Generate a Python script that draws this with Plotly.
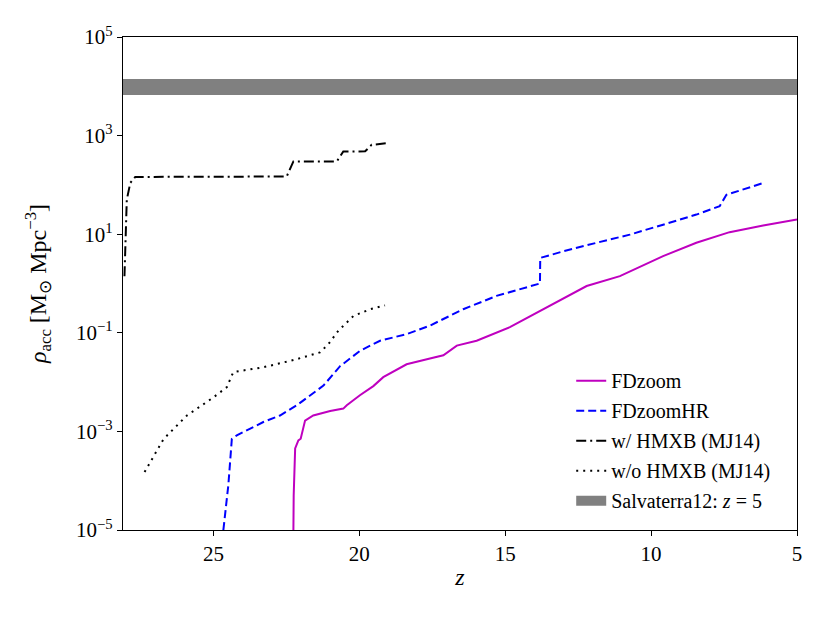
import plotly.graph_objects as go

# redshift / accreted mass density values
fdzoom_z = [22.26, 22.25, 22.2, 22.09, 22.01, 21.86, 21.58, 21.0, 20.55, 20.43, 19.98,
            19.52, 19.18, 18.38, 17.58, 17.12, 16.66, 15.98, 14.84, 13.7, 12.21,
            11.07, 9.59, 8.45, 7.31, 6.16, 5.0]
fdzoom_rho = [1e-5, 5e-5, 4.5e-4, 6.6e-4, 7.1e-4, 1.66e-3, 2.1e-3, 2.6e-3, 2.9e-3, 3.4e-3, 5.4e-3,
              8.3e-3, 0.0126, 0.023, 0.030, 0.035, 0.055, 0.069, 0.13, 0.30, 0.89,
              1.41, 3.6, 6.7, 11.0, 15.0, 20.0]

fdzoomhr_z = [24.66, 24.49, 24.37, 24.2, 23.29, 22.72, 22.14, 21.23, 20.66, 19.98, 19.29,
              18.38, 17.58, 16.44, 15.3, 13.81, 13.80, 13.01, 11.87, 10.73, 9.59, 8.45,
              7.65, 7.42, 6.16]
fdzoomhr_rho = [1e-5, 8.1e-5, 7e-4, 8.3e-4, 1.55e-3, 2.1e-3, 3.4e-3, 8.5e-3, 0.021, 0.043, 0.069,
                0.094, 0.14, 0.30, 0.56, 1.0, 3.3, 4.5, 6.7, 9.8, 15.6, 25.0,
                37.0, 63.0, 109.0]

hmxb_z = [28.05, 27.97, 27.85, 27.68, 22.49, 22.26, 20.77, 20.55, 19.8, 19.58, 19.06]
hmxb_rho = [1.4, 50.0, 110.0, 145.0, 148.0, 300.0, 300.0, 475.0, 480.0, 650.0, 700.0]

nohmxb_z = [27.36, 26.71, 25.91, 25.0, 24.54, 24.32, 23.29, 22.26, 21.35, 21.06, 20.72,
            20.2, 19.63, 19.12]
nohmxb_rho = [1.5e-4, 7e-4, 2.1e-3, 4.9e-3, 7.9e-3, 0.016, 0.020, 0.028, 0.040, 0.059, 0.11,
              0.22, 0.30, 0.36]

salvaterra_z = [29.0, 4.0]
salvaterra_rho = [9.7e3, 9.7e3]

tick_exp = [-5, -3, -1, 1, 3, 5]

font = "Liberation Serif"

fig = go.Figure()
fig.add_trace(go.Scatter(x=fdzoom_z, y=fdzoom_rho, mode="lines", name="FDzoom",
                         legendgroup="a", line=dict(color="#BF00BF", width=2)))
fig.add_trace(go.Scatter(x=fdzoomhr_z, y=fdzoomhr_rho, mode="lines", name="FDzoomHR",
                         legendgroup="b", line=dict(color="#0000FF", width=2, dash="8px,4px")))
fig.add_trace(go.Scatter(x=hmxb_z, y=hmxb_rho, mode="lines", name="w/ HMXB (MJ14)",
                         legendgroup="c",
                         line=dict(color="black", width=2, dash="10px,4px,2px,4px")))
fig.add_trace(go.Scatter(x=nohmxb_z, y=nohmxb_rho, mode="lines", name="w/o HMXB (MJ14)",
                         legendgroup="d", line=dict(color="black", width=2, dash="2px,5px")))
fig.add_trace(go.Scatter(x=salvaterra_z, y=salvaterra_rho, mode="lines",
                         name="Salvaterra12: <i>z</i> = 5", legendgroup="e",
                         line=dict(color="#808080", width=16)))

fig.update_layout(
    width=830, height=623,
    margin=dict(l=115, r=41, t=29, b=101),
    plot_bgcolor="white", paper_bgcolor="white",
    font=dict(family=font, size=20, color="black"),
    showlegend=True,
    legend=dict(x=0.665, y=0.02, xanchor="left", yanchor="bottom",
                traceorder="grouped", tracegroupgap=1,
                bgcolor="rgba(0,0,0,0)", font=dict(family=font, size=20)),
)
fig.update_xaxes(
    range=[28.1, 5], showline=True, linecolor="black", linewidth=1.2, mirror=True,
    ticks="outside", ticklen=5, tickcolor="black", showgrid=False, zeroline=False,
    tickvals=[25, 20, 15, 10, 5], tickfont=dict(family=font, size=21),
    title=dict(text="<i>z</i>", standoff=2),
)
fig.update_yaxes(
    type="log", range=[-5, 5], showline=True, linecolor="black", linewidth=1.2, mirror=True,
    ticks="outside", ticklen=5, tickcolor="black", showgrid=False, zeroline=False,
    tickvals=[10.0 ** e for e in tick_exp],
    ticktext=["10<sup>%s</sup>" % (str(e).replace("-", "\u2212")) for e in tick_exp],
    tickfont=dict(family=font, size=21),
    title=dict(text="<i>\u03c1</i><sub>acc</sub> [M<sub>\u2299</sub> Mpc<sup>\u22123</sup>]",
               standoff=22),
)

fig.write_html("out.html")
